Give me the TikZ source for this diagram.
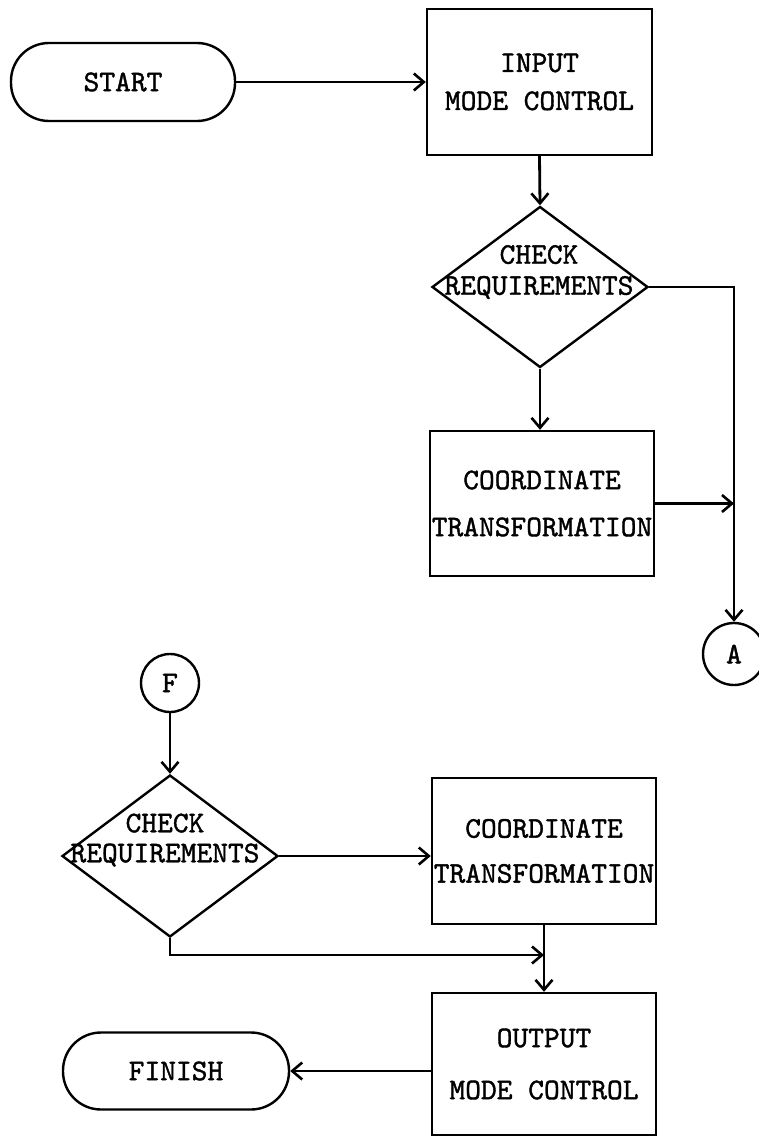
\documentclass[tikz,border=0pt]{standalone}
\usepackage{fontspec}
\newfontfamily\diafont[FakeBold=1.3]{lmmono10-regular.otf}
\usetikzlibrary{shapes.geometric,arrows.meta}
\begin{document}
\begin{tikzpicture}[x=1pt,y=-1pt,
  every node/.style={font=\diafont\fontsize{30}{38}\selectfont, align=center, inner sep=0pt},
  box/.style={draw, line width=2.4pt, minimum width=225pt, minimum height=146pt},
  term/.style={draw, line width=2.4pt, rounded corners=38pt, minimum width=224pt, minimum height=78pt},
  dia/.style={draw, diamond, line width=2.4pt, minimum width=216pt, minimum height=161pt},
  conn/.style={draw, circle, line width=2.4pt, minimum size=58pt},
  flow/.style={line width=2.8pt, -{Straight Barb[length=10pt,width=17pt,line width=2.6pt]}}]
\useasboundingbox (0,0) rectangle (758,1137);

\node[term] (start) at (123,82) {START};
\node[box] (input) at (539.5,82) {INPUT\\MODE CONTROL};
\node[dia] (d1) at (540,287) {};
\node (d1t) at (539,272) {CHECK\\[-7pt]REQUIREMENTS};
\node[box, minimum width=224pt, minimum height=145pt] (c1) at (542,503.5) {COORDINATE\\[9pt]TRANSFORMATION};
\node[conn, minimum size=62pt] (A) at (734,654) {A};

\node[conn] (F) at (170,683) {F};
\node[dia, minimum height=162pt] (d2) at (170,856) {};
\node (d2t) at (165,840) {CHECK\\[-8pt]REQUIREMENTS};
\node[box, minimum width=224pt] (c2) at (544,851) {COORDINATE\\[7pt]TRANSFORMATION};
\node[box, minimum width=224pt, minimum height=142pt] (out) at (544,1064) {OUTPUT\\[14pt]MODE CONTROL};
\node[term, minimum width=226pt, minimum height=77pt] (finish) at (176,1071) {FINISH};
\coordinate (j) at (544,955);

\draw[flow] (start.east) -- (start.east -| input.west);
\draw[flow] (input.south) -- (d1.north);
\draw[flow] (d1.east) -| (A.north);
\draw[flow] (d1.south) -- (d1.south |- c1.north);
\draw[flow] (c1.east) -- (c1.east -| A.north);
\draw[flow] (F.south) -- (d2.north);
\draw[flow] (d2.east) -- (d2.east -| c2.west);
\draw[flow] (d2.south) |- (j);
\draw[flow] (c2.south) -- (out.north);
\draw[flow] (out.west |- finish.east) -- (finish.east);
\end{tikzpicture}
\end{document}
